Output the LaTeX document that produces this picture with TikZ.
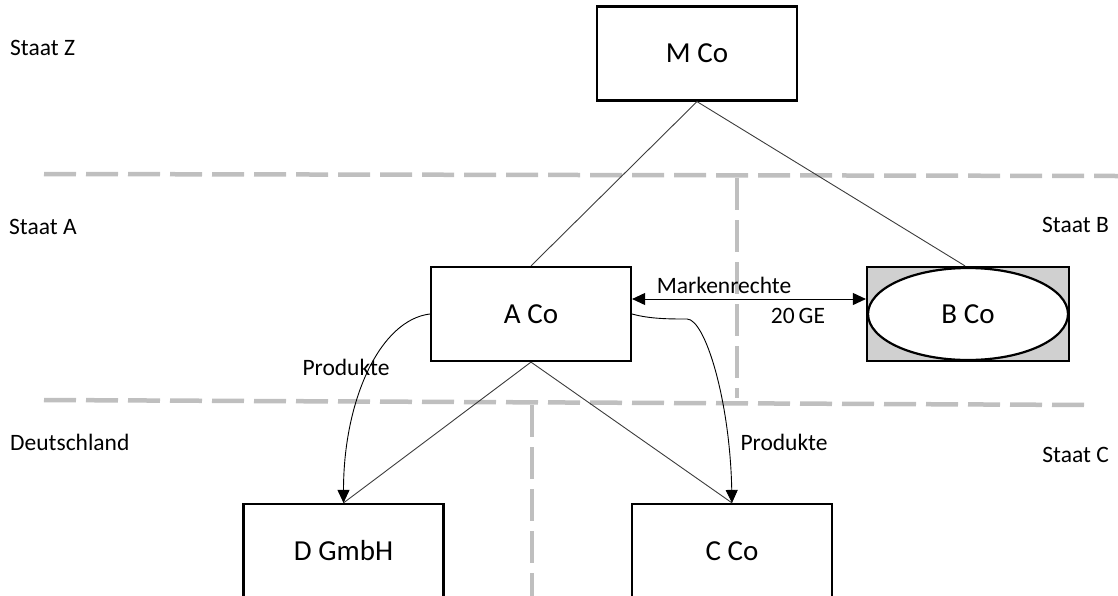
\documentclass[tikz,border=0pt]{standalone}
\usepackage{fontspec}
\setmainfont{Carlito}
\usetikzlibrary{arrows.meta,shapes.geometric}
\definecolor{sepgray}{RGB}{191,191,191}
\definecolor{linegray}{RGB}{60,60,60}
\tikzset{
  company/.style={draw=black, line width=2.2pt, fill=white, minimum width=200pt, minimum height=94pt, inner sep=0pt, font=\fontsize{29}{33}\selectfont},
  lbl/.style={inner sep=0pt, font=\fontsize{23.5}{27}\selectfont},
  border/.style={draw=sepgray, line width=4.5pt, dash pattern=on 32pt off 10pt},
  link/.style={draw=linegray, line width=0.9pt},
  flow/.style={draw=black, line width=0.9pt, -{Triangle[length=13pt,width=12pt]}},
}
\begin{document}
\begin{tikzpicture}[x=1pt,y=-1pt]
\useasboundingbox (0,0) rectangle (1118,595);
% borders
\draw[border] (44,174) -- (1118,176);
\draw[border] (44,400) -- (1090,405);
\draw[border] (737,178) -- (737,398);
\draw[border] (532,405) -- (532,600);
% region labels
\node[lbl, anchor=west] (sz) at (10,48) {Staat Z};
\node[lbl, anchor=west] (sa) at (9,227) {Staat A};
\node[lbl, anchor=east] (sb) at (1109,225) {Staat B};
\node[lbl, anchor=west] (de) at (10,442) {Deutschland};
\node[lbl, anchor=east] (sc) at (1109,455) {Staat C};
% companies
\node[company] (mco) at (697,53.5) {M Co};
\node[company] (aco) at (531,314) {A Co};
\node[company, fill={rgb,255:red,208;green,208;blue,208}, minimum width=202pt] (bco) at (968,314) {};
\node[draw=black, line width=2.2pt, fill=white, ellipse, minimum width=200pt, minimum height=92pt, inner sep=0pt, font=\fontsize{29}{33}\selectfont] (bell) at (968,314) {B Co};
\node[company] (dg) at (343.5,551) {D GmbH};
\node[company] (cco) at (732,551) {C Co};
% ownership links
\draw[link] (mco.south) -- (aco.north);
\draw[link] (mco.south) -- ([xshift=-3pt]bco.north);
\draw[link] (aco.south) -- (dg.north);
\draw[link] (aco.south) -- (cco.north);
% flows
\draw[draw=black, line width=0.9pt, {Triangle[length=13pt,width=12pt]}-{Triangle[length=13pt,width=12pt]}] ([yshift=15pt]aco.east) -- ([yshift=15pt]bco.west);
\node[lbl] (mr) at (724,285) {Markenrechte};
\node[lbl] (ge) at (798,316) {20\,GE};
\draw[flow] (aco.west) .. controls (380,320) and (343.5,400) .. (dg.north);
\draw[flow] (aco.east) .. controls (650,319) and (670,319) .. (687,319) .. controls (705,319) and (730,400) .. (cco.north);
\node[lbl] (p1) at (346,367) {Produkte};
\node[lbl] (p2) at (784,442) {Produkte};
\end{tikzpicture}
\end{document}
